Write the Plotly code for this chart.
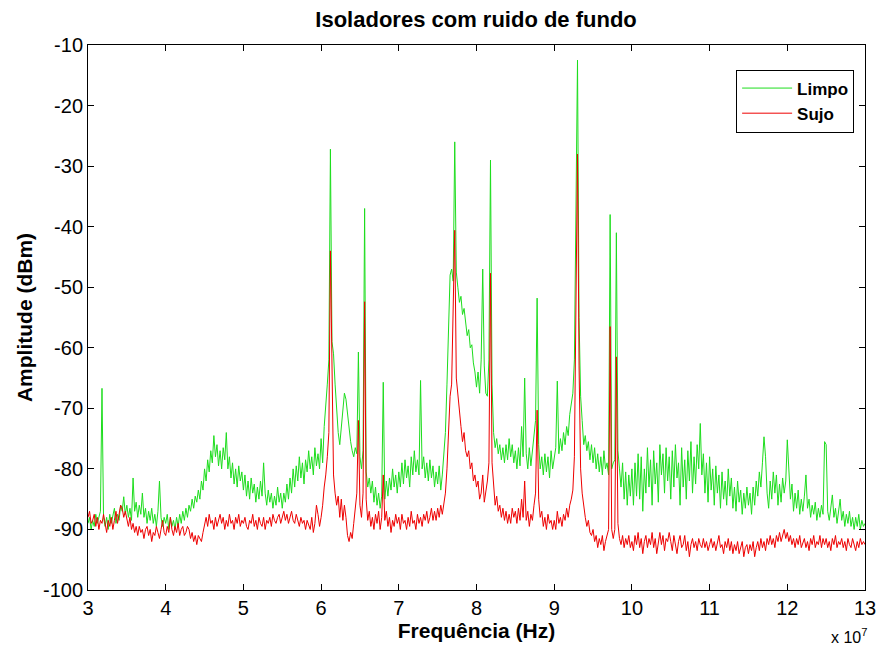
import numpy as np
import plotly.graph_objects as go

# Frequency sweep points (in units of 10^7 Hz), 3.00 .. 13.00 step 0.02
freq = np.round(np.linspace(3.0, 13.0, 501), 2)

limpo = [
    -89, -88, -90, -88.5, -89.5, -87.5, -89, -88, -87, -66.7, -88, -89.5, -88, -90, -87.5, -89, -88, -86.5, -89, -87.5, -88.5, -86, -87, -84.6, -87.5,
    -86, -88, -86.5, -88.5, -81.5, -87, -85.5, -88, -86, -87.5, -84, -88, -86.5, -89, -87, -88.5, -86.5, -89, -87.5, -89.5, -87, -82, -88, -89.5, -88,
    -89, -87.5, -90, -88, -89.5, -88.5, -90, -88, -89.5, -87.5, -89, -87, -88.5, -86.5, -88, -86, -87, -85, -86.5, -84.5, -85.5, -83.5, -85, -82, -83.5,
    -80, -82, -78.5, -80.5, -77, -79, -74.5, -78, -76, -79.5, -77, -80, -76.5, -78.5, -74, -80, -78, -81.5, -79, -82.5, -80, -83, -79.5, -82, -80.5,
    -83.5, -81, -84.5, -82, -85, -81.5, -84, -82.5, -85.5, -83, -85, -82, -84.5, -79, -84, -86, -83.5, -85.5, -84, -86.5, -84.5, -86, -83, -85.5, -84,
    -86.5, -84, -85.5, -82.5, -85, -81.5, -84, -80, -83, -79.5, -82, -78, -81.5, -79, -82.5, -78.5, -80.5, -77, -80, -78, -81, -76.5, -79.5, -77.5, -80,
    -75, -79, -73, -70, -66, -62, -27.2, -59, -61, -66, -71, -74, -76, -73, -70, -67.5, -68.5, -71, -73, -75.5, -77, -78, -76.5, -77.5, -60.7,
    -78, -80, -77, -37, -80.5, -83, -81.5, -84, -82, -85.5, -83, -86, -84, -86.5, -84.5, -65.7, -85, -82, -84.5, -81.5, -83.5, -80, -83, -81, -84,
    -80.5, -83, -79, -82.5, -78.5, -81.5, -79.5, -83, -78, -81, -77, -80.5, -78.5, -81, -65.4, -80, -78, -81.5, -79, -82, -78.5, -81.5, -79.5, -83, -80.5,
    -82.5, -79.5, -83.5, -81, -78, -74, -66, -56, -48, -47, -49, -26, -47.5, -50, -52.5, -51.5, -54.5, -53.5, -56, -58, -57, -60, -59.5, -62.5, -64,
    -66.5, -64, -67.5, -62, -47, -63, -67.5, -68, -62, -29, -66, -74, -76.5, -75, -77.5, -76, -78.5, -76.5, -79, -76, -78.5, -75, -78, -76, -79,
    -77, -80, -76.5, -79.5, -73, -78, -65, -77.5, -80, -76.5, -79.5, -77, -74, -72, -51.8, -76, -80, -78, -81, -77.5, -80.5, -78, -81.5, -77, -80,
    -78, -76.5, -65.5, -77.5, -75, -77, -74, -76, -73, -74.5, -71, -69, -67.5, -62, -39, -12.5, -55, -68, -72, -76, -74.5, -77, -75.5, -78.5, -76,
    -79, -76.5, -80, -77.5, -80.5, -78, -81, -77, -80, -79, -81, -38, -80, -79, -78.5, -41, -77, -80, -83, -79, -85, -80.5, -86, -81, -84.5,
    -80, -86, -79, -84.5, -77.5, -85, -78, -87, -80, -84, -76.5, -83, -78.5, -86, -77, -82.5, -79, -85.5, -76, -81, -77.5, -84, -76.5, -82, -78,
    -85, -77, -83, -76, -81.5, -79, -86, -76.5, -83, -78.5, -85, -77, -82, -75.5, -84, -78, -82.5, -76, -80, -72.5, -81, -77.5, -84, -79, -85.5,
    -78, -83.5, -80, -86, -79.5, -84, -81, -86.5, -80.5, -85, -82, -86, -80, -84.5, -81.5, -86.5, -83, -87, -82, -85.5, -83.5, -87.5, -84, -86.5, -83,
    -86, -84, -87.5, -83, -86, -82, -84.5, -80.5, -83, -79, -74.7, -78, -84, -86.5, -82, -85, -80.5, -84, -81, -86, -82.5, -85.5, -81.5, -84, -82,
    -75.2, -81, -85, -82.5, -87, -84, -86.5, -83.5, -87.5, -85, -87, -84.5, -81, -86.5, -85, -88, -86, -87.5, -85.5, -88.5, -86.5, -88, -86, -87.5, -75.5,
    -76, -87, -88.5, -86.5, -84.3, -88, -86.5, -89, -87, -85, -88.5, -87, -89.5, -87.5, -89, -87, -89.5, -88, -90, -88, -89.5, -87.5, -90, -88.5, -89.5,
    -89,
]

sujo = [
    -88, -87, -89, -88.5, -87.5, -89.5, -88, -90, -88.5, -89, -87.5, -89, -90.5, -88.5, -89.5, -88, -90, -88.5, -87, -89, -87.5, -86, -86.5, -88, -87,
    -88.5, -89.5, -88, -90, -89, -90.5, -89.5, -91, -89.5, -90.5, -90, -91.5, -90, -89.5, -91, -90, -92, -90.5, -91, -89.5, -90.5, -91.5, -90, -88.5, -90.5,
    -91, -89.5, -90.5, -88, -90, -91, -89.5, -90.5, -89, -91, -90, -89.5, -91, -90.5, -89.5, -90, -91.5, -90.5, -92, -91, -92.5, -91, -91.5, -92, -90.5,
    -89, -88, -89.5, -87.5, -89, -88.5, -90, -88, -89.5, -88.5, -87.5, -89, -88, -90, -88.5, -89.5, -87.5, -89, -88.5, -90, -88, -89, -87.5, -89.5, -88.5,
    -89, -88, -89.5, -90, -88.5, -89, -87.5, -89.5, -88.5, -90, -88, -89, -89.5, -88, -90, -88.5, -89, -88, -89.5, -87.5, -88.5, -89, -88, -87.5, -89,
    -88, -87, -88.5, -87.5, -89, -88, -87, -88.5, -89, -87.5, -88.5, -89.5, -88, -89, -88.5, -90, -88.5, -89.5, -90, -88, -90.5, -89, -86, -87.5, -89.5,
    -88, -86, -83, -81, -78, -74, -44, -66, -81, -84, -86, -84.5, -88, -85, -88.5, -86, -88, -91, -92, -90.5, -91.5, -89, -86, -84, -72,
    -86, -88, -84, -52.4, -85, -88.5, -87, -89.5, -88, -90, -87.5, -89, -87, -90, -88, -81, -88.5, -87, -89.5, -88, -90.5, -88.5, -89.5, -87.5, -89,
    -88, -90, -87.5, -89, -88.5, -90, -88, -89.5, -87, -89, -88.5, -90, -87.5, -89, -88, -89.5, -87.5, -88.5, -87, -89, -88, -86.5, -88.5, -87, -88.5,
    -86.5, -88, -86, -87.5, -85.5, -84, -80, -75, -68, -66, -52, -40.6, -65, -68, -71, -73, -75.5, -74, -77, -78, -77, -80, -79, -82, -81,
    -83, -82, -85, -84, -81, -85.5, -84, -82, -79, -47.7, -79, -83, -86, -84.5, -87, -86, -88, -86.5, -88.5, -87, -89, -87.5, -89, -86.5, -88,
    -87, -89, -86.5, -88.5, -85, -88, -82, -88.5, -87, -89.5, -87.5, -88.5, -86, -84, -70.3, -85, -88, -87, -89.5, -88, -90, -87.5, -89, -88.5, -90,
    -88.5, -90, -87, -89, -88, -89.5, -87.5, -88.5, -86.5, -88, -86, -85, -83.5, -78, -47, -28, -63, -80, -84, -86.5, -88, -89.5, -88.5, -90.5, -91,
    -90, -92, -91, -93, -91.5, -92.5, -91, -93.5, -92, -91, -90, -56.5, -90, -91.5, -90, -61.5, -89, -91.5, -92.5, -91, -93, -91.5, -92.5, -91, -93,
    -92, -93.5, -91, -92.5, -90.5, -93, -91.5, -94, -92, -91, -93, -91.5, -92.5, -90.5, -93, -91.5, -94, -92, -90.5, -92.5, -91, -93.5, -91.5, -92, -90.5,
    -92, -93.5, -91, -92.5, -94, -92, -91, -93, -92.5, -91, -93.5, -92, -94.5, -92.5, -91.5, -93, -92, -93.5, -91.5, -92.5, -93, -91.5, -93, -92, -93.5,
    -92.5, -91.5, -93, -92, -93.5, -92, -91, -93, -92.5, -94, -92, -93, -91.5, -93.5, -92, -94, -92.5, -93.5, -92, -94, -93, -92, -94.5, -93, -92.5,
    -94, -92.5, -93.5, -92, -94.5, -93, -92, -93.5, -91.5, -93, -92, -93.5, -91.5, -92.5, -91, -92.5, -91.5, -93, -91, -92, -90.5, -92, -91, -90, -91.5,
    -90.5, -92, -91, -92.5, -91.5, -93, -91.5, -92.5, -91, -93, -92, -91.5, -93, -92, -93.5, -91.5, -92.5, -91, -93, -92, -92.5, -91, -93, -91.5, -92.5,
    -91.5, -93, -92, -93.5, -91.5, -92.5, -91, -93, -92, -92.5, -91.5, -93, -92, -93.5, -91.5, -92.5, -93, -91.5, -92.5, -93.5, -92, -93, -91.5, -92.5, -92,
    -92.5,
]

x_ticks = [3, 4, 5, 6, 7, 8, 9, 10, 11, 12, 13]
y_ticks = [-100, -90, -80, -70, -60, -50, -40, -30, -20, -10]

FONT = "Liberation Sans, Arial, sans-serif"

fig = go.Figure()
fig.add_trace(go.Scatter(x=freq, y=limpo, mode="lines", name="Limpo",
                         line=dict(color="#1ddd1d", width=1)))
fig.add_trace(go.Scatter(x=freq, y=sujo, mode="lines", name="Sujo",
                         line=dict(color="#ee0000", width=1)))

fig.update_layout(
    width=880, height=648,
    margin=dict(l=88, r=15, t=45, b=58, autoexpand=False),
    paper_bgcolor="white", plot_bgcolor="white",
    font=dict(family=FONT, color="black", size=19),
    title=dict(text="<b>Isoladores com ruido de fundo</b>", x=0.541, xanchor="center",
               y=0.970, yanchor="middle", font=dict(size=22, family=FONT)),
    legend=dict(x=0.986, y=0.955, xanchor="right", yanchor="top",
                bgcolor="white", bordercolor="black", borderwidth=1,
                font=dict(size=17, family=FONT, weight="bold"),
                tracegroupgap=0, itemwidth=50),
    showlegend=True,
)
fig.update_xaxes(range=[3, 13], tickvals=x_ticks, ticktext=[str(v) for v in x_ticks],
                 ticks="inside", ticklen=6, tickcolor="black", showline=True, linecolor="black",
                 linewidth=1, mirror="ticks", showgrid=False, zeroline=False, automargin=False,
                 tickfont=dict(size=20),
                 title=dict(text="<b>Frequência (Hz)</b>", font=dict(size=21), standoff=4))
fig.update_yaxes(range=[-100, -10], tickvals=y_ticks, ticktext=[str(v) for v in y_ticks],
                 ticks="inside", ticklen=6, tickcolor="black", showline=True, linecolor="black",
                 linewidth=1, mirror="ticks", showgrid=False, zeroline=False, automargin=False,
                 tickfont=dict(size=20),
                 title=dict(text="<b>Amplitude (dBm)</b>", font=dict(size=21), standoff=4))
fig.add_annotation(text="x 10<sup>7</sup>", xref="paper", yref="paper", x=1.005, y=-0.062,
                   xanchor="right", yanchor="top", showarrow=False, font=dict(size=16))

fig.write_html("out.html")
